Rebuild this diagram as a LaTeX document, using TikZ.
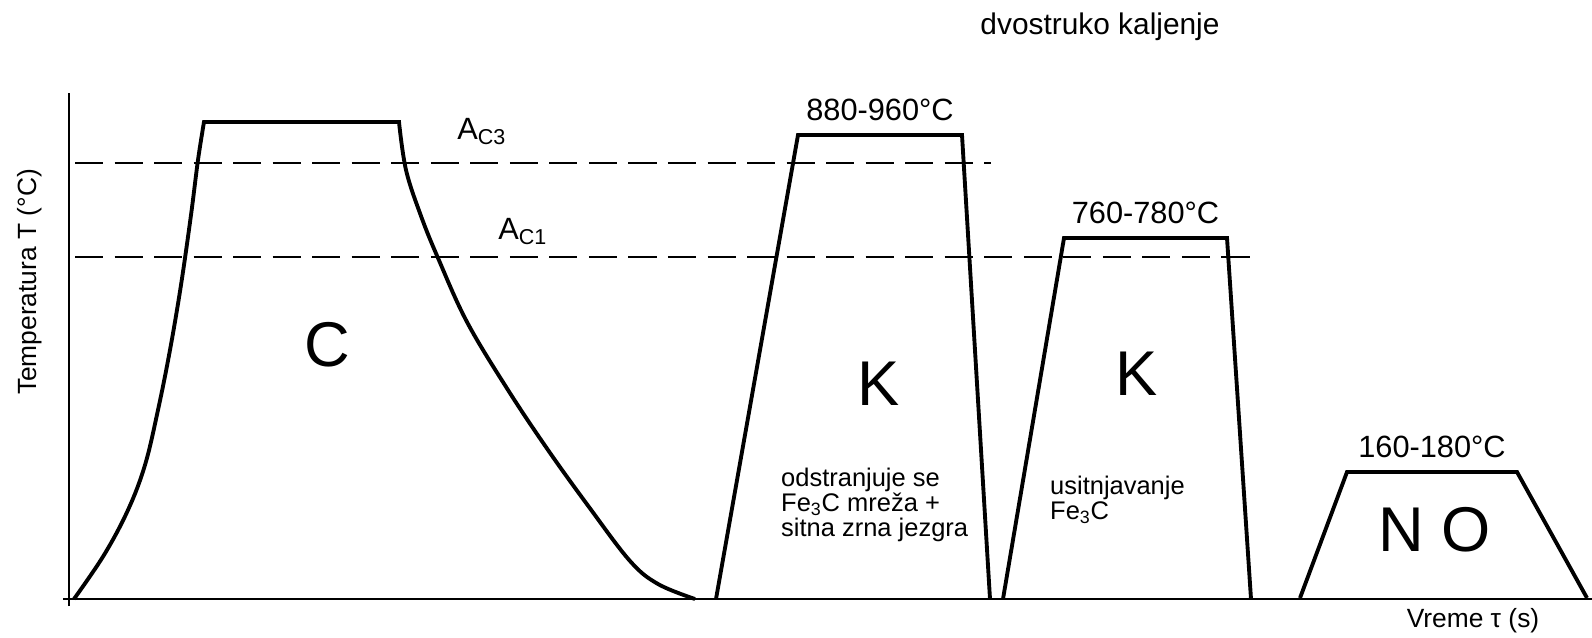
\documentclass[tikz,border=0pt]{standalone}
\usepackage{fontspec}
\setmainfont{Liberation Sans}
\usetikzlibrary{
  calc,
  positioning}

\tikzset{
  axis/.style={line width=1.1pt},
  curve/.style={line width=2.2pt, line join=miter},
  crit/.style={line width=1.5pt, dash pattern=on 16pt off 6.5pt},
  temp/.style={font=\fontsize{17.5}{17.5}\selectfont, above=3.5pt, midway},
  phase/.style={font=\fontsize{36}{36}\selectfont},
  note/.style={font=\fontsize{14.5}{14}\selectfont, align=left, anchor=west},
  label/.style={font=\fontsize{15}{15}\selectfont}
}

\begin{document}
\begin{tikzpicture}[x=0.02cm, y=-0.02cm]%
  \useasboundingbox (0,0) rectangle (1592,638);

  % Axes
  \coordinate (origin) at (69,599);
  \draw[axis] (origin) ++ (0,7) --++ (0,-513);
  \draw[axis] (origin) ++ (-6,0) -- (1592,599);

  \node[
    label,
    rotate=90
  ] (ylab) at (30,282) {Temperatura T (°C)};

  \node[
    label
  ] (xlab) at (1473,621) {Vreme τ (s)};

  \node[
    font=\fontsize{17}{17}\selectfont
  ] (title) at (1100,27) {dvostruko kaljenje};

  % Critical temperatures
  \draw[crit] (75,163) -- (991,163);
  \draw[crit] (75,257) -- (1253,257);

  \node[
    font=\fontsize{17.5}{17.5}\selectfont,
    anchor=base west,
    inner sep=0pt
  ] (ac3) at (457,140) {A\textsubscript{C3}};

  \node[
    font=\fontsize{17.5}{17.5}\selectfont,
    anchor=base west,
    inner sep=0pt
  ] (ac1) at (498,240) {A\textsubscript{C1}};

  % Carburizing
  \draw[curve]
    plot[smooth, tension=0.6] coordinates {
      (74,599) (104,555) (128,510) (145,465) (158,410)
      (170,350) (181,285) (191,215) (198,160) (204,122)}
    -- (399,122)
    -- plot[smooth, tension=0.6] coordinates {
      (399,122) (406,170) (421,216) (438,258) (467,322)
      (508,390) (548,450) (589,507) (630,561) (658,584)
      (695,599)};

  \node[phase] (c) at (327,345) {C};

  % First hardening
  \coordinate (k1) at (716,599);
  \draw[curve]
    (k1) --++ (82,-464)
    --++ (164,0) node[temp] {880-960°C}
    --++ (28,464);

  \node[phase] (k1lab) at (879,384) {K};

  \node[note] (k1note) at (775,505)
    {odstranjuje se\\Fe\textsubscript{3}C mreža +\\sitna zrna jezgra};

  % Second hardening
  \coordinate (k2) at (1003,599);
  \draw[curve]
    (k2) --++ (61,-361)
    --++ (163,0) node[temp] {760-780°C}
    --++ (24,361);

  \node[phase] (k2lab) at (1137,374) {K};

  \node[note] (k2note) at (1044,500)
    {usitnjavanje\\Fe\textsubscript{3}C};

  % Low tempering
  \coordinate (no) at (1300,598);
  \draw[curve]
    (no) --++ (47,-126)
    --++ (170,0) node[temp] {160-180°C}
    --++ (70,126);

  \node[phase] (nolab) at (1435,530) {N O};

\end{tikzpicture}
\end{document}
